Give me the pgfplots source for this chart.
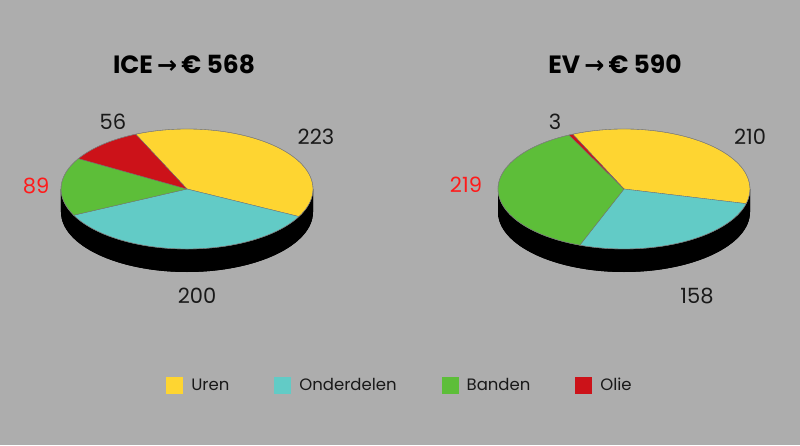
\documentclass[border=0pt]{standalone}
\usepackage{pgfplots}
\usepackage{pgfplotstable}
\pgfplotsset{compat=1.18}
\usepackage{fontspec}
\setmainfont{Poppins}
\newfontfamily\symfont{DejaVu Sans}

\definecolor{bg}{HTML}{ADADAD}
\definecolor{cUren}{HTML}{FED531}
\definecolor{cOnder}{HTML}{62CBC6}
\definecolor{cBanden}{HTML}{5DBE39}
\definecolor{cOlie}{HTML}{CC1219}
\definecolor{lblred}{HTML}{FF1A1A}

\pgfdeclarehorizontalshading{pieside}{100bp}{%
  color(0bp)=(black!72); color(8bp)=(black!92); color(16bp)=(black);
  color(88bp)=(black); color(100bp)=(black!88)}

\pgfplotstableread{
part value
Uren 223
Onderdelen 200
Banden 89
Olie 56
}\icedata
\pgfplotstableread{
part value
Uren 210
Onderdelen 158
Banden 219
Olie 3
}\evdata

\def\piecol#1{\ifcase#1 cUren\or cOnder\or cBanden\or cOlie\fi}

% #1 table, #2/#3 centre in axis units; slices clockwise from 114 deg
\newcommand\drawpie[3]{%
  \gdef\pietot{0}%
  \pgfplotstableforeachcolumnelement{value}\of#1\as\v{%
    \pgfmathsetmacro\tmp{\pietot+\v}\global\let\pietot\tmp}%
  \fill[shading=pieside]
    ([xshift=-126bp]axis cs:#2,#3) -- ++(0,-23bp)
    arc[start angle=180, end angle=360, x radius=126bp, y radius=60bp]
    -- ++(0,23bp)
    arc[start angle=0, end angle=-180, x radius=126bp, y radius=60bp] -- cycle;
  \gdef\pieang{114}%
  \pgfplotstableforeachcolumnelement{value}\of#1\as\v{%
    \pgfmathsetmacro\angb{\pieang-\v/\pietot*360}%
    \edef\cmd{\noexpand\filldraw[fill=\piecol{\pgfplotstablerow}, draw=black!55, line width=0.35bp]
      (axis cs:#2,#3) -- ([shift={(\pieang:126bp and 60bp)}]axis cs:#2,#3)
      arc[start angle=\pieang, end angle=\angb, x radius=126bp, y radius=60bp] -- cycle;}%
    \cmd
    \global\let\pieang\angb}%
  \draw[black!50, line width=0.35bp] (axis cs:#2,#3) ellipse[x radius=126bp, y radius=60bp];
}

\begin{document}
\begin{tikzpicture}
\begin{axis}[
  scale only axis, width=800bp, height=445bp,
  xmin=0, xmax=800, ymin=0, ymax=445,
  hide axis, clip=false,
  legend style={at={(axis cs:400,60)}, anchor=center, draw=none, fill=none,
    legend columns=4, text=black!90,
    font=\fontsize{16.5bp}{20bp}\selectfont,
    /tikz/every odd column/.append style={column sep=6bp},
    /tikz/every even column/.append style={column sep=43bp}},
  legend cell align=left,
  legend image code/.code={\fill[#1, draw=none] (0bp,-8.5bp) rectangle (17bp,8.5bp);},
]
\fill[bg] (axis cs:0,0) rectangle (axis cs:800,445);

\drawpie{\icedata}{187}{256}
\drawpie{\evdata}{624}{256}

\node[font=\fontsize{25bp}{30bp}\selectfont\bfseries] at (axis cs:184,381)
  {ICE\,{\symfont\fontsize{24bp}{26bp}\selectfont →}\,€ 568};
\node[font=\fontsize{25bp}{30bp}\selectfont\bfseries] at (axis cs:615,381)
  {EV\,{\symfont\fontsize{24bp}{26bp}\selectfont →}\,€ 590};

\begin{scope}[every node/.style={font=\fontsize{21bp}{25bp}\selectfont, text=black!90}]
\node at (axis cs:113,323) {56};
\node at (axis cs:316,308) {223};
\node[text=lblred] at (axis cs:36,259) {89};
\node at (axis cs:197,149) {200};
\node at (axis cs:555,323) {3};
\node at (axis cs:750,308) {210};
\node[text=lblred] at (axis cs:466,260) {219};
\node at (axis cs:697,149) {158};
\end{scope}

\addlegendimage{fill=cUren}\addlegendentry{Uren}
\addlegendimage{fill=cOnder}\addlegendentry{Onderdelen}
\addlegendimage{fill=cBanden}\addlegendentry{Banden}
\addlegendimage{fill=cOlie}\addlegendentry{Olie}
\end{axis}
\end{tikzpicture}
\end{document}
